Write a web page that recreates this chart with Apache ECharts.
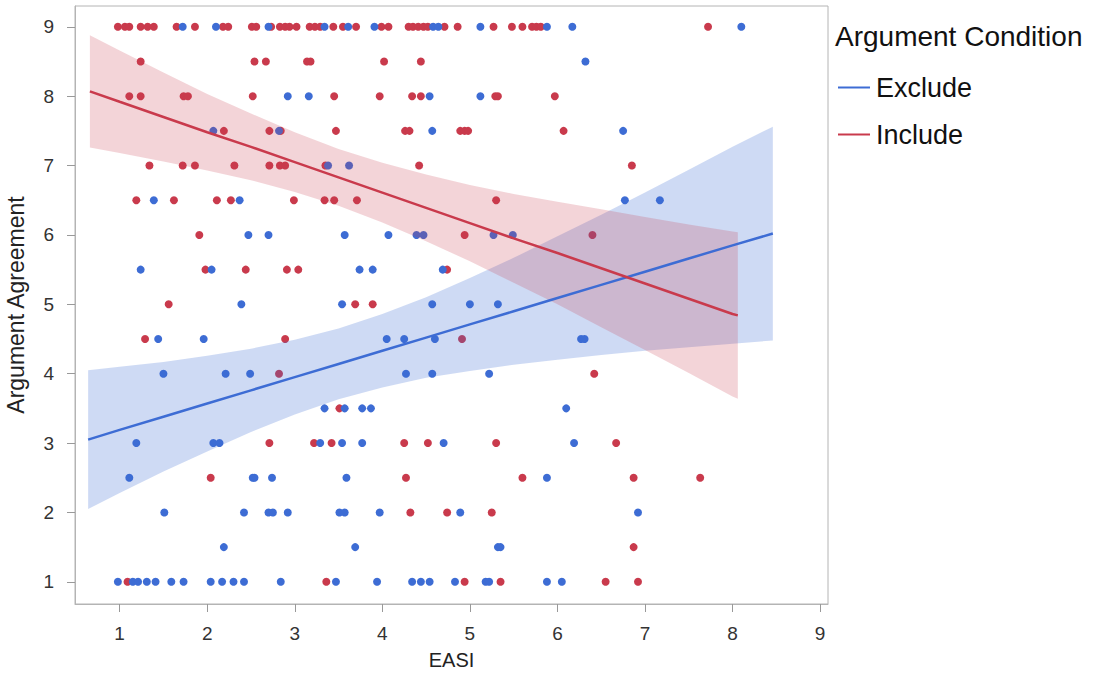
<!DOCTYPE html>
<html>
<head>
<meta charset="utf-8">
<script src="https://cdn.jsdelivr.net/npm/echarts@6/dist/echarts.min.js"></script>
<style>
  html, body { margin: 0; padding: 0; background: #fff; }
  #chart { width: 1103px; height: 679px; }
</style>
</head>
<body>
<div id="chart"></div>
<script>
// tick values on both axes
const xTicks = [1, 2, 3, 4, 5, 6, 7, 8, 9];
const yTicks = [1, 2, 3, 4, 5, 6, 7, 8, 9];

// raw points, [EASI, agreement], grouped by agreement row
const excludePoints = [
  [1.72, 9], [2.10, 9], [2.70, 9], [3.34, 9], [3.61, 9], [3.91, 9], [4.58, 9], [4.64, 9], [5.12, 9], [5.88, 9], [6.17, 9], [8.10, 9],
  [6.32, 8.5],
  [2.92, 8], [3.16, 8], [4.54, 8], [5.12, 8],
  [2.07, 7.5], [2.82, 7.5], [4.57, 7.5], [6.75, 7.5],
  [3.38, 7], [3.62, 7],
  [1.39, 6.5], [2.37, 6.5], [6.77, 6.5], [7.17, 6.5],
  [2.47, 6], [2.70, 6], [3.57, 6], [4.07, 6], [4.39, 6], [4.47, 6], [5.27, 6], [5.49, 6],
  [1.24, 5.5], [2.05, 5.5], [3.74, 5.5], [3.89, 5.5], [4.69, 5.5],
  [2.39, 5], [3.54, 5], [4.57, 5], [5.00, 5], [5.32, 5],
  [1.44, 4.5], [1.96, 4.5], [4.05, 4.5], [4.25, 4.5], [4.60, 4.5], [6.27, 4.5], [6.31, 4.5],
  [1.50, 4], [2.21, 4], [2.49, 4], [4.27, 4], [4.57, 4], [5.22, 4],
  [3.34, 3.5], [3.57, 3.5], [3.77, 3.5], [3.87, 3.5], [6.10, 3.5],
  [1.19, 3], [2.07, 3], [2.14, 3], [3.29, 3], [3.54, 3], [3.77, 3], [4.70, 3], [6.19, 3],
  [1.11, 2.5], [2.52, 2.5], [2.54, 2.5], [2.74, 2.5], [3.59, 2.5], [5.88, 2.5],
  [1.51, 2], [2.42, 2], [2.70, 2], [2.75, 2], [2.92, 2], [3.51, 2], [3.57, 2], [3.97, 2], [4.89, 2], [6.92, 2],
  [2.19, 1.5], [3.69, 1.5], [5.32, 1.5], [5.35, 1.5],
  [0.98, 1], [1.15, 1], [1.21, 1], [1.31, 1], [1.41, 1], [1.59, 1], [1.73, 1], [2.04, 1], [2.17, 1], [2.30, 1], [2.42, 1],
  [2.84, 1], [3.47, 1], [3.94, 1], [4.34, 1], [4.44, 1], [4.54, 1], [4.83, 1], [5.18, 1], [5.22, 1], [5.88, 1], [6.05, 1]
];

const includePoints = [
  [0.98, 9], [1.06, 9], [1.11, 9], [1.24, 9], [1.32, 9], [1.39, 9], [1.65, 9], [1.86, 9], [2.18, 9], [2.24, 9], [2.51, 9], [2.56, 9],
  [2.73, 9], [2.83, 9], [2.89, 9], [2.94, 9], [3.02, 9], [3.17, 9], [3.23, 9], [3.29, 9], [3.44, 9], [3.55, 9], [3.70, 9], [3.99, 9],
  [4.07, 9], [4.30, 9], [4.35, 9], [4.41, 9], [4.47, 9], [4.52, 9], [4.71, 9], [4.86, 9], [5.27, 9], [5.48, 9], [5.60, 9], [5.71, 9],
  [5.76, 9], [5.81, 9], [7.72, 9],
  [1.24, 8.5], [2.54, 8.5], [2.67, 8.5], [3.14, 8.5], [3.18, 8.5], [4.02, 8.5], [4.44, 8.5],
  [1.11, 8], [1.24, 8], [1.73, 8], [1.78, 8], [2.52, 8], [3.45, 8], [3.97, 8], [4.34, 8], [4.44, 8], [5.29, 8], [5.32, 8], [5.97, 8],
  [2.19, 7.5], [2.71, 7.5], [2.84, 7.5], [3.47, 7.5], [4.26, 7.5], [4.31, 7.5], [4.89, 7.5], [4.94, 7.5], [4.98, 7.5], [6.07, 7.5],
  [1.34, 7], [1.72, 7], [1.86, 7], [2.31, 7], [2.71, 7], [2.83, 7], [2.89, 7], [3.35, 7], [4.42, 7], [6.85, 7],
  [1.19, 6.5], [1.62, 6.5], [2.11, 6.5], [2.27, 6.5], [2.99, 6.5], [3.34, 6.5], [3.45, 6.5], [3.71, 6.5], [5.30, 6.5],
  [1.91, 6], [4.94, 6], [6.40, 6],
  [1.98, 5.5], [2.44, 5.5], [2.91, 5.5], [3.04, 5.5], [4.74, 5.5],
  [1.56, 5], [3.69, 5], [3.89, 5],
  [1.29, 4.5], [2.89, 4.5], [4.91, 4.5],
  [2.82, 4], [6.42, 4],
  [3.51, 3.5],
  [2.71, 3], [3.22, 3], [3.42, 3], [4.25, 3], [4.52, 3], [5.30, 3], [6.67, 3],
  [2.04, 2.5], [4.27, 2.5], [5.60, 2.5], [6.87, 2.5], [7.63, 2.5],
  [4.32, 2], [4.74, 2], [5.25, 2],
  [6.87, 1.5],
  [1.09, 1], [3.36, 1], [4.94, 1], [5.35, 1], [6.55, 1], [6.92, 1]
];

// fitted line and confidence band
const excludeFitX = [0.64, 1, 1.5, 2, 2.5, 3, 3.5, 4, 4.5, 5, 5.5, 6, 6.5, 7, 7.5, 8, 8.46];
const excludeFit = [3.05, 3.19, 3.38, 3.57, 3.76, 3.95, 4.14, 4.33, 4.52, 4.71, 4.90, 5.09, 5.28, 5.47, 5.66, 5.85, 6.02];
const excludeUpper = [4.05, 4.10, 4.17, 4.26, 4.36, 4.49, 4.65, 4.86, 5.10, 5.38, 5.67, 5.98, 6.29, 6.61, 6.94, 7.27, 7.56];
const excludeLower = [2.05, 2.28, 2.59, 2.88, 3.16, 3.41, 3.63, 3.80, 3.94, 4.04, 4.13, 4.20, 4.27, 4.33, 4.38, 4.43, 4.48];

const includeFitX = [0.66, 1, 1.5, 2, 2.5, 3, 3.5, 4, 4.5, 5, 5.5, 6, 6.5, 7, 7.5, 8, 8.06];
const includeFit = [8.07, 7.92, 7.70, 7.48, 7.27, 7.05, 6.83, 6.61, 6.39, 6.17, 5.95, 5.74, 5.52, 5.30, 5.08, 4.86, 4.84];
const includeUpper = [8.88, 8.66, 8.34, 8.03, 7.75, 7.48, 7.24, 7.04, 6.87, 6.72, 6.59, 6.48, 6.37, 6.26, 6.15, 6.05, 6.04];
const includeLower = [7.26, 7.18, 7.06, 6.93, 6.79, 6.62, 6.42, 6.18, 5.91, 5.62, 5.31, 5.00, 4.67, 4.34, 4.01, 3.67, 3.64];

const BLUE = '#3d6cd4';
const RED = '#c93a4c';
const FONT = 'Liberation Sans';

function bandSeries(xs, upper, lower, fill) {
    return {
        type: 'custom',
        z: 3,
        silent: true,
        data: [[xs[0], lower[0]]],
        renderItem: function (params, api) {
            const pts = [];
            for (let i = 0; i < xs.length; i++) pts.push(api.coord([xs[i], upper[i]]));
            for (let i = xs.length - 1; i >= 0; i--) pts.push(api.coord([xs[i], lower[i]]));
            return { type: 'polygon', shape: { points: pts }, style: { fill: fill } };
        }
    };
}

function lineSeries(name, xs, ys, color) {
    return {
        name: name,
        type: 'line',
        z: 4,
        symbol: 'none',
        silent: true,
        lineStyle: { color: color, width: 2.5 },
        itemStyle: { color: color },
        data: xs.map((x, i) => [x, ys[i]])
    };
}

var chart = echarts.init(document.getElementById('chart'), null, { renderer: 'svg' });
var option = {
    animation: false,
    textStyle: { fontFamily: FONT },
    grid: { left: 75, right: 275, top: 6, bottom: 75, show: true, borderColor: '#b4b4b4', borderWidth: 1, outerBoundsMode: 'none' },
    title: {
        text: 'Argument Condition',
        left: 835, top: 22, padding: 0,
        textStyle: { fontFamily: FONT, fontSize: 28, fontWeight: 'normal', color: '#111' }
    },
    legend: {
        data: ['Exclude', 'Include'],
        orient: 'vertical',
        left: 838, top: 74, padding: 0,
        icon: 'rect',
        itemWidth: 32, itemHeight: 2, itemGap: 20,
        textStyle: { fontFamily: FONT, fontSize: 27, color: '#111', padding: [0, 0, 0, 1] }
    },
    xAxis: {
        type: 'value', min: 0.49, max: 9.09,
        name: 'EASI', nameLocation: 'middle', nameGap: 46,
        nameTextStyle: { fontFamily: FONT, fontSize: 20, color: '#222' },
        splitLine: { show: false },
        axisLine: { lineStyle: { color: '#b4b4b4' } },
        axisTick: { customValues: xTicks, length: 8, lineStyle: { color: '#999' } },
        axisLabel: { customValues: xTicks, margin: 20, fontSize: 19, color: '#333' }
    },
    yAxis: {
        type: 'value', min: 0.68, max: 9.3,
        name: 'Argument Agreement', nameLocation: 'middle', nameGap: 48,
        nameTextStyle: { fontFamily: FONT, fontSize: 23, color: '#222' },
        splitLine: { show: false },
        axisLine: { show: true, lineStyle: { color: '#b4b4b4' } },
        axisTick: { show: true, customValues: yTicks, length: 8, lineStyle: { color: '#999' } },
        axisLabel: { customValues: yTicks, margin: 21, fontSize: 19, color: '#333' }
    },
    series: [
        { name: 'Include points', type: 'scatter', z: 2, symbolSize: 8, itemStyle: { color: RED, opacity: 1 }, data: includePoints },
        { name: 'Exclude points', type: 'scatter', z: 2, symbolSize: 8, itemStyle: { color: BLUE, opacity: 1 }, data: excludePoints },
        bandSeries(excludeFitX, excludeUpper, excludeLower, 'rgba(61,108,212,0.25)'),
        bandSeries(includeFitX, includeUpper, includeLower, 'rgba(201,58,76,0.22)'),
        lineSeries('Exclude', excludeFitX, excludeFit, BLUE),
        lineSeries('Include', includeFitX, includeFit, RED)
    ]
};
chart.setOption(option);
</script>
</body>
</html>
